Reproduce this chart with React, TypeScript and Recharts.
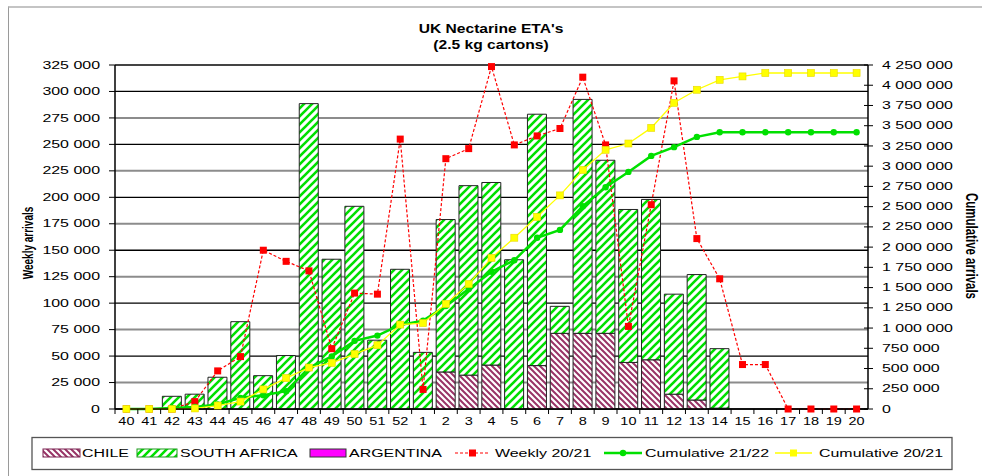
import React from "react";
import {
  Bar,
  CartesianGrid,
  ComposedChart,
  Line,
  XAxis,
  YAxis,
} from "recharts";

// week numbers, season 21/22
const weeks = [
  "40", "41", "42", "43", "44", "45", "46", "47", "48", "49", "50", "51", "52",
  "1", "2", "3", "4", "5", "6", "7", "8", "9", "10", "11", "12", "13", "14",
  "15", "16", "17", "18", "19", "20",
];

const chile = [
  0, 0, 0, 0, 0, 0, 0, 0, 0, 0, 0, 0, 0, 0, 35000, 32000, 41500, 0, 41000,
  71500, 71500, 71500, 44000, 46500, 14000, 8500, 800, 0, 0, 0, 0, 0, 0,
];

const southAfrica = [
  0, 0, 12000, 14000, 30000, 82500, 31500, 50500, 288500, 141500, 191500,
  65000, 132000, 53500, 144000, 179000, 172500, 141000, 237500, 25500, 221000,
  163500, 144500, 151500, 94500, 118500, 56200, 0, 0, 0, 0, 0, 0,
];

const argentina = [
  0, 0, 0, 0, 0, 0, 0, 0, 0, 0, 0, 0, 0, 0, 0, 0, 0, 0, 0, 0, 0, 0, 0, 0, 0,
  0, 0, 0, 0, 0, 0, 0, 0,
];

const weekly2021 = [
  0, 0, 0, 7000, 36000, 49500, 150000, 139500, 130500, 57000, 109500, 108500,
  255000, 18500, 236500, 246000, 323500, 249500, 258000, 265000, 313500,
  249500, 78000, 193000, 310000, 161000, 123000, 42000, 42000, 0, 0, 0, 0,
];

const cumulative2122 = [
  0, 0, 12000, 26000, 56000, 138000, 170000, 220000, 508000, 650000, 842000,
  907000, 1039000, 1092000, 1271000, 1482000, 1696000, 1837000, 2116000,
  2213000, 2505000, 2740000, 2929000, 3127000, 3235000, 3362000, 3420000,
  3420000, 3420000, 3420000, 3420000, 3420000, 3420000,
];

const cumulative2021 = [
  0, 0, 0, 7000, 43000, 92000, 242000, 382000, 512000, 569000, 679000, 788000,
  1043000, 1061000, 1298000, 1544000, 1867000, 2116000, 2374000, 2639000,
  2953000, 3202000, 3280000, 3473000, 3783000, 3944000, 4067000, 4109000,
  4151000, 4151000, 4151000, 4151000, 4151000,
];

const leftTicks = [
  0, 25000, 50000, 75000, 100000, 125000, 150000, 175000, 200000, 225000,
  250000, 275000, 300000, 325000,
];

const rightTicks = [
  0, 250000, 500000, 750000, 1000000, 1250000, 1500000, 1750000, 2000000,
  2250000, 2500000, 2750000, 3000000, 3250000, 3500000, 3750000, 4000000,
  4250000,
];

const data = weeks.map((week, i) => ({
  week,
  chile: chile[i],
  sa: southAfrica[i],
  argentina: argentina[i],
  weekly: weekly2021[i],
  cum2122: cumulative2122[i],
  cum2021: cumulative2021[i],
}));

const FONT = "'Liberation Sans', Arial, sans-serif";
// the original picture is stretched sideways
const STRETCH = 1.45;
const sx = (x: number, y: number, s = STRETCH) =>
  `translate(${x},${y}) scale(${s},1)`;

const fmt = (v: number) => String(v).replace(/\B(?=(\d{3})+(?!\d))/g, " ");

const LeftTick = (p: any) => (
  <text
    transform={sx(p.x, p.y)}
    textAnchor="end"
    dominantBaseline="central"
    fontSize={11}
    fontFamily={FONT}
    fill="#000"
  >
    {fmt(p.payload.value)}
  </text>
);

const RightTick = (p: any) => (
  <g>
    <line x1={p.x - 18} x2={p.x - 14} y1={p.y} y2={p.y} stroke="#000" />
    <text
      transform={sx(p.x, p.y)}
      textAnchor="start"
      dominantBaseline="central"
      fontSize={11}
      fontFamily={FONT}
      fill="#000"
    >
      {fmt(p.payload.value)}
    </text>
  </g>
);

const XTick = (p: any) => {
  const half = p.payload.offset || 11.4;
  return (
    <g>
      <line
        x1={p.x - half}
        x2={p.x - half}
        y1={p.y - 8}
        y2={p.y - 3}
        stroke="#000"
      />
      <text
        transform={sx(p.x, p.y + 1)}
        textAnchor="middle"
        dominantBaseline="hanging"
        fontSize={10}
        fontFamily={FONT}
        fill="#000"
      >
        {p.payload.value}
      </text>
    </g>
  );
};

const gridLine = (p: any) => (
  <line
    key={p.key}
    x1={p.x1}
    x2={p.x2}
    y1={p.y1}
    y2={p.y2}
    stroke={p.index === 13 ? "#444" : p.index % 2 === 0 ? "#000" : "#8c8c8c"}
    strokeWidth={p.index % 2 === 0 ? 1.3 : 2}
  />
);

const redSquare = (p: any) => (
  <rect
    key={`w${p.index}`}
    x={p.cx - 3.5}
    y={p.cy - 3.5}
    width={7}
    height={7}
    fill="#ff0000"
  />
);

const yellowSquare = (p: any) => (
  <rect
    key={`y${p.index}`}
    x={p.cx - 3.5}
    y={p.cy - 3.5}
    width={7}
    height={7}
    fill="#ffff00"
    stroke="#e8d800"
    strokeWidth={0.6}
  />
);

const greenDot = (p: any) => (
  <circle key={`g${p.index}`} cx={p.cx} cy={p.cy} r={3.2} fill="#00e000" />
);

const Patterns = () => (
  <svg width={0} height={0} style={{ position: "absolute" }}>
    <defs>
      <pattern id="saPat" width={8} height={8} patternUnits="userSpaceOnUse">
        <rect width={8} height={8} fill="#fff" />
        <path
          d="M-2,2 L2,-2 M0,8 L8,0 M6,10 L10,6"
          stroke="#00e000"
          strokeWidth={2.6}
        />
      </pattern>
      <pattern id="chilePat" width={6} height={6} patternUnits="userSpaceOnUse">
        <rect width={6} height={6} fill="#fff" />
        <path
          d="M0,0 L6,6 M-1,5 L1,7 M5,-1 L7,1"
          stroke="#993366"
          strokeWidth={2}
        />
      </pattern>
    </defs>
  </svg>
);

const Label = ({ x, children }: { x: number; children: string }) => (
  <text
    transform={sx(x, 453)}
    dominantBaseline="central"
    fontSize={11}
    fontFamily={FONT}
    fill="#000"
  >
    {children}
  </text>
);

const Overlay = () => (
  <svg
    width={982}
    height={476}
    style={{ position: "absolute", left: 0, top: 0, pointerEvents: "none" }}
  >
    <text
      transform={sx(491, 29, 1.25)}
      textAnchor="middle"
      dominantBaseline="central"
      fontSize={12.5}
      fontWeight="bold"
      fontFamily={FONT}
    >
      UK Nectarine ETA's
    </text>
    <text
      transform={sx(491, 45, 1.25)}
      textAnchor="middle"
      dominantBaseline="central"
      fontSize={12.5}
      fontWeight="bold"
      fontFamily={FONT}
    >
      (2.5 kg cartons)
    </text>
    <text
      transform={`translate(28,243) scale(${STRETCH},1) rotate(-90)`}
      textAnchor="middle"
      dominantBaseline="central"
      fontSize={10}
      fontWeight="bold"
      fontFamily={FONT}
    >
      Weekly arrivals
    </text>
    <text
      transform={`translate(972,246) scale(${STRETCH},1) rotate(90)`}
      textAnchor="middle"
      dominantBaseline="central"
      fontSize={11.5}
      fontWeight="bold"
      fontFamily={FONT}
    >
      Cumulative arrivals
    </text>

    {/* legend */}
    <rect x={32} y={437.5} width={920} height={32} fill="#fff" stroke="#555" strokeWidth={1.3} />
    <rect x={43} y={449} width={37} height={8} fill="url(#chilePat)" stroke="#7a2050" />
    <Label x={82}>CHILE</Label>
    <rect x={137} y={449} width={40} height={8} fill="url(#saPat)" stroke="#1a9a1a" />
    <Label x={180}>SOUTH AFRICA</Label>
    <rect x={310} y={449} width={36} height={8} fill="#ff00ff" stroke="#333" />
    <Label x={349}>ARGENTINA</Label>
    <line x1={455} x2={490} y1={453} y2={453} stroke="#ff0000" strokeDasharray="3 2" strokeWidth={1.2} />
    <rect x={469} y={449.5} width={7} height={7} fill="#ff0000" />
    <Label x={495}>Weekly 20/21</Label>
    <line x1={604} x2={642} y1={453} y2={453} stroke="#00e000" strokeWidth={2.5} />
    <circle cx={623} cy={453} r={3.2} fill="#00e000" />
    <Label x={645}>Cumulative 21/22</Label>
    <line x1={775} x2={812} y1={453} y2={453} stroke="#ffff00" strokeWidth={1.3} />
    <rect x={790} y={449.5} width={7} height={7} fill="#ffff00" />
    <Label x={819}>Cumulative 20/21</Label>
  </svg>
);

export default function App() {
  return (
    <div
      style={{
        position: "absolute",
        left: 0,
        top: 0,
        width: 982,
        height: 476,
        background: "#fff",
        overflow: "hidden",
      }}
    >
      <div
        style={{
          position: "absolute",
          left: 8,
          top: 6,
          width: 1000,
          height: 500,
          borderLeft: "1.5px solid #9a9a9a",
          borderTop: "2px solid #c4c4c4",
        }}
      />
      <Patterns />
      <div style={{ position: "absolute", left: 0, top: 0 }}>
        <ComposedChart
          width={982}
          height={476}
          data={data}
          margin={{ top: 65, right: 0, bottom: 0, left: 0 }}
          barCategoryGap="7.5%"
        >
          <CartesianGrid yAxisId="left" vertical={false} horizontal={gridLine} />
          <XAxis
            dataKey="week"
            interval={0}
            height={67}
            tickLine={false}
            tickSize={0}
            tickMargin={8}
            tick={<XTick />}
            axisLine={{ stroke: "#000", strokeWidth: 1.5 }}
          />
          <YAxis
            yAxisId="left"
            width={115}
            domain={[0, 325000]}
            ticks={leftTicks}
            interval={0}
            tickSize={6}
            tickMargin={9}
            tick={<LeftTick />}
            tickLine={{ stroke: "#000" }}
            axisLine={{ stroke: "#000", strokeWidth: 1.5 }}
          />
          <YAxis
            yAxisId="right"
            orientation="right"
            width={114}
            domain={[0, 4250000]}
            ticks={rightTicks}
            interval={0}
            tickSize={5}
            tickMargin={9}
            tick={<RightTick />}
            tickLine={{ stroke: "#000" }}
            axisLine={{ stroke: "#000", strokeWidth: 1.5 }}
          />
          <Bar
            yAxisId="left"
            dataKey="chile"
            stackId="a"
            fill="url(#chilePat)"
            stroke="#222"
            strokeWidth={1}
            isAnimationActive={false}
          />
          <Bar
            yAxisId="left"
            dataKey="sa"
            stackId="a"
            fill="url(#saPat)"
            stroke="#222"
            strokeWidth={1}
            isAnimationActive={false}
          />
          <Bar
            yAxisId="left"
            dataKey="argentina"
            stackId="a"
            fill="#ff00ff"
            stroke="#222"
            strokeWidth={1}
            isAnimationActive={false}
          />
          <Line
            yAxisId="left"
            dataKey="weekly"
            stroke="#ff0000"
            strokeWidth={1.2}
            strokeDasharray="3 2"
            dot={redSquare}
            activeDot={false}
            isAnimationActive={false}
          />
          <Line
            yAxisId="right"
            dataKey="cum2122"
            stroke="#00e000"
            strokeWidth={2.5}
            dot={greenDot}
            activeDot={false}
            isAnimationActive={false}
          />
          <Line
            yAxisId="right"
            dataKey="cum2021"
            stroke="#ffff00"
            strokeWidth={1.3}
            dot={yellowSquare}
            activeDot={false}
            isAnimationActive={false}
          />
        </ComposedChart>
      </div>
      <Overlay />
    </div>
  );
}
